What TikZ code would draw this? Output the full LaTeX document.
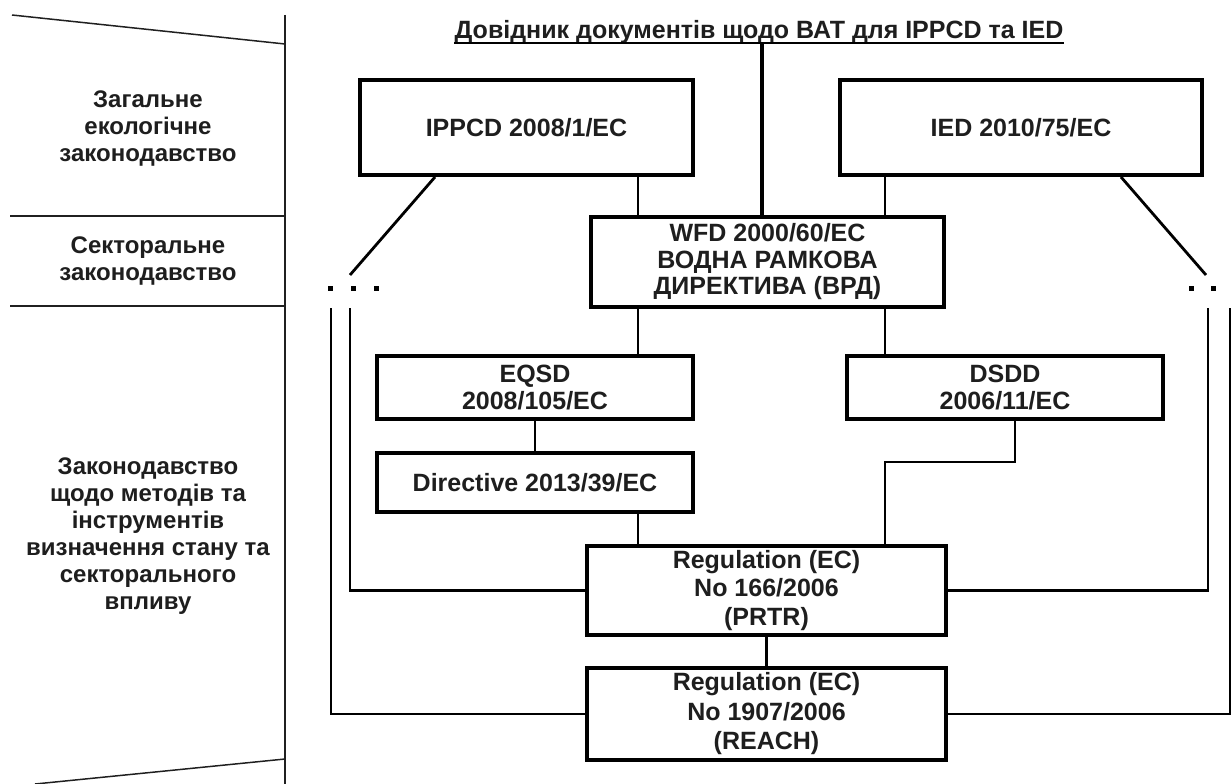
\documentclass[tikz,border=0pt]{standalone}
\usepackage{fontspec}
\setmainfont{Liberation Sans}
\newcommand\myboxfont{\bfseries\fontsize{25}{26.5}\selectfont}
\newcommand\mylblfont{\bfseries\fontsize{24}{27}\selectfont}
\definecolor{txt}{HTML}{1E1E1E}
\definecolor{ln}{HTML}{202020}
\tikzset{
  box/.style={draw=black, line width=4pt, fill=white, align=center, inner sep=0pt, font=\myboxfont, text=txt},
  conn/.style={draw=black, line width=2.8pt},
  panel/.style={draw=ln, line width=1.5pt},
  lbl/.style={align=center, font=\mylblfont, text=txt, inner sep=0pt},
  dotbox/.style={fill=black, inner sep=0pt, minimum size=5pt},
}
\begin{document}
\begin{tikzpicture}[x=1pt,y=-1pt]
\fill[white] (0,0) rectangle (1232,784);
\useasboundingbox (0,0) rectangle (1232,784);

% left panel
\draw[panel] (12,15) -- (285,44);
\draw[panel] (285,15) -- (285,784);
\draw[panel] (10,216) -- (285,216);
\draw[panel] (10,306) -- (285,306);
\draw[panel] (35,784) -- (285,759);

\node[lbl] (l1) at (148,129) {Загальне\\екологічне\\законодавство};
\node[lbl] (l2) at (148,261) {Секторальне\\законодавство};
\node[lbl] (l3) at (148,536) {Законодавство\\щодо методів та\\інструментів\\визначення стану та\\секторального\\впливу};

% title
\node[font=\myboxfont, text=txt, inner sep=0pt, anchor=base] (title) at (759,39) {Довідник документів щодо ВАТ для IPPCD та IED};
\draw[line width=1.8pt] ([yshift=-4pt]title.base west) -- ([yshift=-4pt]title.base east);

% boxes
\node[box, minimum width=333pt, minimum height=95pt] (ippcd) at (526.5,127.5) {IPPCD 2008/1/EC};
\node[box, minimum width=362pt, minimum height=95pt] (ied) at (1021,127.5) {IED 2010/75/EC};
\node[box, minimum width=353pt, minimum height=90pt] (wfd) at (767.5,262) {WFD 2000/60/EC\\ВОДНА РАМКОВА\\ДИРЕКТИВА (ВРД)};
\node[box, minimum width=316pt, minimum height=63pt] (eqsd) at (535,387.5) {EQSD\\2008/105/EC};
\node[box, minimum width=316pt, minimum height=63pt] (dsdd) at (1005,387.5) {DSDD\\2006/11/EC};
\node[box, minimum width=316pt, minimum height=59pt] (dir) at (535,482.5) {Directive 2013/39/EC};
\node[box, minimum width=359pt, minimum height=89pt, font=\bfseries\fontsize{25}{28.5}\selectfont] (prtr) at (766.5,590.5) {Regulation (EC)\\No 166/2006\\(PRTR)};
\node[box, minimum width=359pt, minimum height=92pt, font=\bfseries\fontsize{25}{29.5}\selectfont] (reach) at (766.5,714) {Regulation (EC)\\No 1907/2006\\(REACH)};

% helper coordinates
\coordinate (xL) at (638,0);
\coordinate (xM) at (762,0);
\coordinate (xR) at (885,0);
\coordinate (xE) at (535,0);
\coordinate (xP) at (766.5,0);
\coordinate (xA) at (435,0);
\coordinate (xB) at (1121,0);
\coordinate (dl) at (350,275);
\coordinate (dr) at (1206,275);
\coordinate (bendD) at (1015,462);
\coordinate (l1top) at (350,308);
\coordinate (l2top) at (331,308);
\coordinate (r1top) at (1208,308);
\coordinate (r2top) at (1230,308);

% dots
\node[dotbox] (d1) at (330,288) {};
\node[dotbox] (d2) at (353,288) {};
\node[dotbox] (d3) at (376,288) {};
\node[dotbox] (d4) at (1191,288) {};
\node[dotbox] (d5) at (1213,288) {};

% connectors
\draw[conn, line width=3.2pt] ([yshift=-4pt]title.base -| xM) -- (wfd.north -| xM);
\draw[conn] (ippcd.south -| xL) -- (wfd.north -| xL);
\draw[conn] (ied.south -| xR) -- (wfd.north -| xR);
\draw[conn] (ippcd.south -| xA) -- (dl);
\draw[conn] (ied.south -| xB) -- (dr);
\draw[conn] (wfd.south -| xL) -- (eqsd.north -| xL);
\draw[conn] (wfd.south -| xR) -- (dsdd.north -| xR);
\draw[conn] (eqsd.south -| xE) -- (dir.north -| xE);
\draw[conn] (dir.south -| xL) -- (prtr.north -| xL);
\draw[conn] (dsdd.south -| bendD) -- (bendD) -| (prtr.north -| xR);
\draw[conn] (prtr.south -| xP) -- (reach.north -| xP);
\draw[conn] (prtr.west) -| (l1top);
\draw[conn] (reach.west) -| (l2top);
\draw[conn] (prtr.east) -| (r1top);
\draw[conn] (reach.east) -| (r2top);
\end{tikzpicture}
\end{document}
